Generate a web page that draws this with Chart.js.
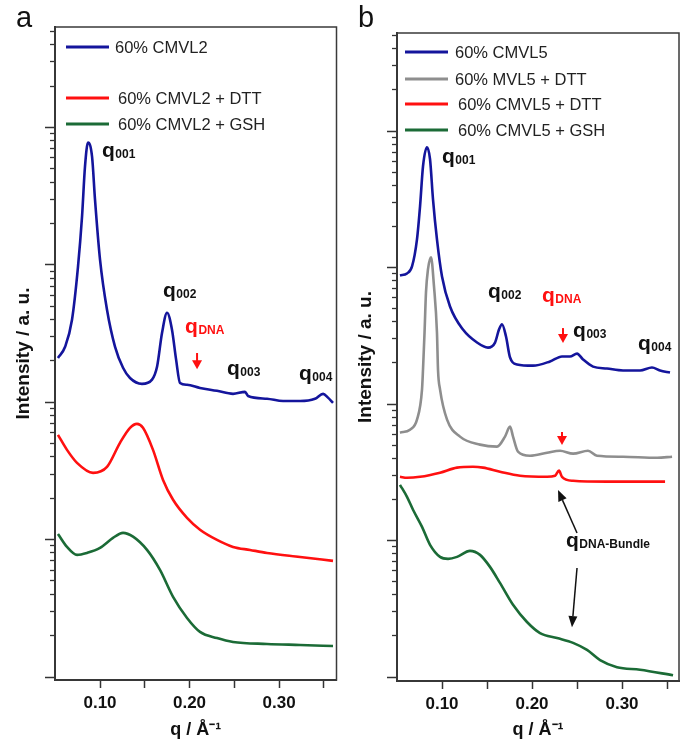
<!DOCTYPE html>
<html><head><meta charset="utf-8">
<script src="https://cdn.jsdelivr.net/npm/chart.js@4.4.0/dist/chart.umd.min.js"></script>
<style>
html,body{margin:0;padding:0;background:#fff;width:685px;height:742px;overflow:hidden}
canvas{position:absolute;top:0}
#ca{left:0}
#cb{left:342px}
</style></head><body>
<canvas id="ca" width="342" height="742" style="width:342px;height:742px"></canvas>
<canvas id="cb" width="343" height="742" style="width:343px;height:742px"></canvas>
<script>
const FONT = "'Liberation Sans', Arial, Helvetica, sans-serif";

// ---------- tick values ----------
const xTickValues = [0.10, 0.15, 0.20, 0.25, 0.30, 0.35];
const xTickLabels = ['0.10', '', '0.20', '', '0.30', ''];
const yDecades = [1, 10, 100, 1000, 10000];
const yMinorFactors = [2, 3, 4, 5, 6, 7, 8, 9];

// ---------- panel a data (q in 1/Å, intensity in a.u.) ----------
const labelsA = ['60% CMVL2', '60% CMVL2 + DTT', '60% CMVL2 + GSH'];
const qA_blue = [0.053,0.061,0.0687,0.0754,0.0799,0.0832,0.0866,0.0911,0.0944,0.100,0.1078,0.1168,0.1257,0.1335,0.1469,0.1581,0.1637,0.1693,0.1749,0.1804,0.1850,0.1894,0.1972,0.2117,0.2307,0.2486,0.2620,0.2654,0.2866,0.3045,0.3235,0.3402,0.3492,0.3547,0.3603];
const iA_blue = [210,253,398,969,2240,5180,7750,6130,2980,1090,471,253,178,150,136,146,181,320,448,337,204,138,134,127,121,115,119,111,106,102,102,106,115,108,99];
const qA_red = [0.053,0.0631,0.0743,0.0922,0.1078,0.1223,0.1335,0.1413,0.148,0.1592,0.1704,0.1816,0.1972,0.2117,0.2307,0.2486,0.2676,0.2866,0.3235,0.3603];
const iA_red = [57.9,45.0,36.2,30.6,33.8,50.6,65.1,69.6,65.1,45.0,27.2,19.5,14.4,11.8,9.95,8.85,8.41,8.0,7.48,7.0];
const qA_green = [0.053,0.0631,0.0743,0.0855,0.100,0.1145,0.1257,0.1369,0.1525,0.167,0.1816,0.1972,0.2117,0.2307,0.2486,0.2866,0.3235,0.3603];
const iA_green = [11.0,8.85,7.74,8.0,8.70,10.3,11.2,10.5,8.41,6.01,3.83,2.69,2.13,1.92,1.80,1.74,1.71,1.68];

// ---------- panel b data ----------
const labelsB = ['60% CMVL5', '60% MVL5 + DTT', '60% CMVL5 + DTT', '60% CMVL5 + GSH'];
const qB_blue = [0.0533,0.0611,0.0667,0.0722,0.0756,0.0789,0.0833,0.0867,0.0900,0.0944,0.1000,0.1089,0.1233,0.1389,0.1511,0.1589,0.1633,0.1667,0.1711,0.1756,0.1833,0.2011,0.2200,0.2333,0.2422,0.2500,0.2567,0.2678,0.2833,0.3011,0.3200,0.3333,0.3422,0.3533];
const iB_blue = [875,905,1019,1607,2806,5520,7600,6210,3160,1607,860,518,351,282,259,282,351,383,312,219,195,191,205,223,223,234,212,188,182,176,176,185,176,170];
const qB_gray = [0.0533,0.0644,0.0722,0.0778,0.0789,0.0806,0.0822,0.0844,0.0878,0.0911,0.0944,0.0956,0.0978,0.1056,0.1200,0.1422,0.1611,0.1700,0.1756,0.1789,0.1844,0.1978,0.2167,0.2311,0.2456,0.2622,0.2722,0.3011,0.3389,0.3556];
const iB_gray = [61.7,64.9,76.9,128,179,334,657,968,1186,727,334,176,128,76.9,57.7,50.4,48.7,57.7,68.3,57.7,44.8,41.8,44.0,45.5,43.3,45.5,41.8,41.1,40.4,41.1];
const qB_red = [0.0533,0.0611,0.0756,0.0978,0.1167,0.1344,0.1456,0.1644,0.1867,0.2167,0.2256,0.2300,0.2333,0.2456,0.2833,0.3478];
const iB_red = [29.3,28.8,29.3,31.4,34.2,34.7,34.2,31.9,29.8,29.3,29.8,32.5,29.3,27.4,27.0,27.0];
const qB_green = [0.0533,0.0611,0.0678,0.0778,0.0867,0.0978,0.1067,0.1167,0.1311,0.1422,0.1533,0.1644,0.1789,0.1944,0.2089,0.2278,0.2456,0.2611,0.2756,0.2944,0.3200,0.3567];
const iB_green = [25.6,20.9,16.8,12.6,9.30,7.59,7.34,7.59,8.40,7.85,6.41,4.89,3.38,2.53,2.10,1.93,1.78,1.58,1.33,1.18,1.13,1.03];

// ---------- colours ----------
const C_BLUE = '#14159c', C_RED = '#ff1010', C_GREEN = '#1b6b36', C_GRAY = '#8e8e8e';

// ---------- plugins ----------
const framePlugin = {
  id: 'frame',
  afterDatasetsDraw(chart) {
    const {ctx, chartArea: a} = chart;
    ctx.save();
    ctx.strokeStyle = '#3a3a3a'; ctx.lineWidth = 1.5;
    ctx.strokeRect(a.left, a.top, a.right - a.left, a.bottom - a.top);
    ctx.restore();
  }
};

function drawQ(ctx, x, y, sub, color) {
  ctx.fillStyle = color;
  ctx.textAlign = 'left'; ctx.textBaseline = 'alphabetic';
  ctx.font = `bold 21px ${FONT}`;
  ctx.fillText('q', x, y);
  const w = ctx.measureText('q').width;
  ctx.font = `bold 12px ${FONT}`;
  ctx.fillText(sub, x + w + 0.5, y + 1);
}

const annotPlugin = {
  id: 'annot',
  afterDraw(chart, args, o) {
    const ctx = chart.ctx, xs = chart.scales.x, ys = chart.scales.yMaj;
    const X = q => xs.getPixelForValue(q), Y = v => ys.getPixelForValue(v);
    ctx.save();
    // panel letter
    ctx.fillStyle = '#111'; ctx.font = `29px ${FONT}`;
    ctx.textAlign = 'left'; ctx.textBaseline = 'alphabetic';
    ctx.fillText(o.letter, o.letterX, o.letterY);
    // legend
    ctx.font = `16.5px ${FONT}`; ctx.textBaseline = 'middle';
    o.legend.forEach((L, i) => {
      const ds = chart.data.datasets[i];
      ctx.strokeStyle = ds.borderColor; ctx.lineWidth = 3;
      ctx.beginPath(); ctx.moveTo(o.legX0, L.y); ctx.lineTo(o.legX1, L.y); ctx.stroke();
      ctx.fillStyle = '#222';
      ctx.fillText(ds.label, L.tx, L.y + 1);
    });
    // q labels
    o.labels.forEach(l => drawQ(ctx, X(l.q), Y(l.v), l.sub, l.color));
    // red down arrows
    o.redArrows.forEach(r => {
      const x = X(r.q), y1 = Y(r.v1), y2 = Y(r.v2);
      ctx.strokeStyle = C_RED; ctx.fillStyle = C_RED; ctx.lineWidth = 2;
      ctx.beginPath(); ctx.moveTo(x, y1); ctx.lineTo(x, y2 - 7); ctx.stroke();
      ctx.beginPath(); ctx.moveTo(x - 5, y2 - 9); ctx.lineTo(x + 5, y2 - 9); ctx.lineTo(x, y2); ctx.closePath(); ctx.fill();
    });
    // black arrows
    o.blackArrows.forEach(b => {
      const x1 = X(b.q1), y1 = Y(b.v1), x2 = X(b.q2), y2 = Y(b.v2);
      const ang = Math.atan2(y2 - y1, x2 - x1), hl = 11, hw = 4.5;
      const bx = x2 - hl * Math.cos(ang), by = y2 - hl * Math.sin(ang);
      ctx.strokeStyle = '#111'; ctx.fillStyle = '#111'; ctx.lineWidth = 1.5;
      ctx.beginPath(); ctx.moveTo(x1, y1); ctx.lineTo(bx, by); ctx.stroke();
      ctx.beginPath();
      ctx.moveTo(x2, y2);
      ctx.lineTo(bx + hw * Math.sin(ang), by - hw * Math.cos(ang));
      ctx.lineTo(bx - hw * Math.sin(ang), by + hw * Math.cos(ang));
      ctx.closePath(); ctx.fill();
    });
    ctx.restore();
  }
};

function makePanel(id, p) {
  const datasets = p.series.map(s => ({
    label: s.label,
    data: s.q.map((q, i) => ({x: q, y: s.v[i]})),
    borderColor: s.color, backgroundColor: s.color,
    borderWidth: 2.6, pointRadius: 0, fill: false,
    cubicInterpolationMode: 'monotone',
    xAxisID: 'x', yAxisID: 'yMaj'
  }));
  const minorTicks = [];
  yDecades.forEach(d => yMinorFactors.forEach(f => { if (f * d <= p.ymax) minorTicks.push(f * d); }));
  return new Chart(document.getElementById(id), {
    type: 'line',
    data: {datasets},
    options: {
      responsive: false, animation: false, devicePixelRatio: 1,
      layout: {padding: {left: 0, top: p.top, right: p.right, bottom: 0}},
      plugins: {legend: {display: false}, tooltip: {enabled: false}, annot: p.annot},
      scales: {
        x: {
          type: 'linear', axis: 'x', position: 'bottom', min: p.xmin, max: p.xmax,
          afterBuildTicks: s => { s.ticks = xTickValues.map(v => ({value: v})); },
          ticks: {
            autoSkip: false, maxRotation: 0, padding: 5, color: '#111',
            font: {family: FONT, size: 17, weight: 'bold', lineHeight: 1.2},
            callback: (v) => { const k = xTickValues.findIndex(t => Math.abs(t - v) < 1e-9); return k >= 0 ? xTickLabels[k] : ''; }
          },
          grid: {display: true, drawOnChartArea: false, drawTicks: true, tickLength: 8, tickColor: '#333', tickWidth: 1.5},
          border: {display: true, color: '#333', width: 2},
          title: {display: true, text: 'q / Å⁻¹', color: '#111',
                  font: {family: FONT, size: 18, weight: 'bold', lineHeight: 1},
                  padding: {top: 0, bottom: 3}},
          afterFit: s => { s.height = p.xAxisH; }
        },
        yMaj: {
          type: 'logarithmic', axis: 'y', position: 'left', weight: 1, min: p.ymin, max: p.ymax,
          afterBuildTicks: s => { s.ticks = yDecades.map(v => ({value: v})); },
          ticks: {display: false},
          grid: {display: true, drawOnChartArea: false, drawTicks: true, tickLength: 10, tickColor: '#333', tickWidth: 1.5},
          border: {display: true, color: '#333', width: 2},
          title: {display: true, text: 'Intensity / a. u.', color: '#111',
                  font: {family: FONT, size: 19, weight: 'bold', lineHeight: 1},
                  padding: {top: 14.5, bottom: 0}},
          afterFit: s => { s.width = 55; }
        },
        yMin: {
          type: 'logarithmic', axis: 'y', position: 'left', weight: 0, min: p.ymin, max: p.ymax,
          afterBuildTicks: s => { s.ticks = minorTicks.map(v => ({value: v})); },
          ticks: {display: false},
          grid: {display: true, drawOnChartArea: false, drawTicks: true, tickLength: 5, tickColor: '#333', tickWidth: 1.3},
          border: {display: false},
          afterFit: s => { s.width = 0; }
        }
      }
    },
    plugins: [framePlugin, annotPlugin]
  });
}

makePanel('ca', {
  top: 27, right: 5.5, xAxisH: 62, xmin: 0.0497, xmax: 0.3642, ymin: 0.951, ymax: 53800,
  series: [
    {label: labelsA[0], q: qA_blue, v: iA_blue, color: C_BLUE},
    {label: labelsA[1], q: qA_red, v: iA_red, color: C_RED},
    {label: labelsA[2], q: qA_green, v: iA_green, color: C_GREEN}
  ],
  annot: {
    letter: 'a', letterX: 16, letterY: 27,
    legX0: 66, legX1: 109,
    legend: [{y: 47, tx: 115}, {y: 98, tx: 118}, {y: 124, tx: 118}],
    labels: [
      {q: 0.1022, v: 6090, sub: '001', color: '#111'},
      {q: 0.1704, v: 583, sub: '002', color: '#111'},
      {q: 0.1950, v: 319, sub: 'DNA', color: C_RED},
      {q: 0.2419, v: 158, sub: '003', color: '#111'},
      {q: 0.3223, v: 145, sub: '004', color: '#111'}
    ],
    redArrows: [{q: 0.2084, v1: 228, v2: 174}],
    blackArrows: []
  }
});

makePanel('cb', {
  top: 33, right: 6, xAxisH: 61, xmin: 0.050, xmax: 0.3633, ymin: 0.935, ymax: 52240,
  series: [
    {label: labelsB[0], q: qB_blue, v: iB_blue, color: C_BLUE},
    {label: labelsB[1], q: qB_gray, v: iB_gray, color: C_GRAY},
    {label: labelsB[2], q: qB_red, v: iB_red, color: C_RED},
    {label: labelsB[3], q: qB_green, v: iB_green, color: C_GREEN}
  ],
  annot: {
    letter: 'b', letterX: 16, letterY: 27,
    legX0: 63, legX1: 106,
    legend: [{y: 52, tx: 113}, {y: 79, tx: 113}, {y: 104, tx: 116}, {y: 130, tx: 116}],
    labels: [
      {q: 0.1000, v: 5830, sub: '001', color: '#111'},
      {q: 0.1511, v: 598, sub: '002', color: '#111'},
      {q: 0.2111, v: 559, sub: 'DNA', color: C_RED},
      {q: 0.2456, v: 310, sub: '003', color: '#111'},
      {q: 0.3178, v: 249, sub: '004', color: '#111'},
      {q: 0.2378, v: 8.96, sub: 'DNA-Bundle', color: '#111'}
    ],
    redArrows: [{q: 0.2344, v1: 360, v2: 280}, {q: 0.2333, v1: 62.4, v2: 50.1}],
    blackArrows: [{q1: 0.250, v1: 11.35, q2: 0.2289, v2: 23.4}, {q1: 0.250, v1: 6.29, q2: 0.2444, v2: 2.32}]
  }
});
</script>
</body></html>
